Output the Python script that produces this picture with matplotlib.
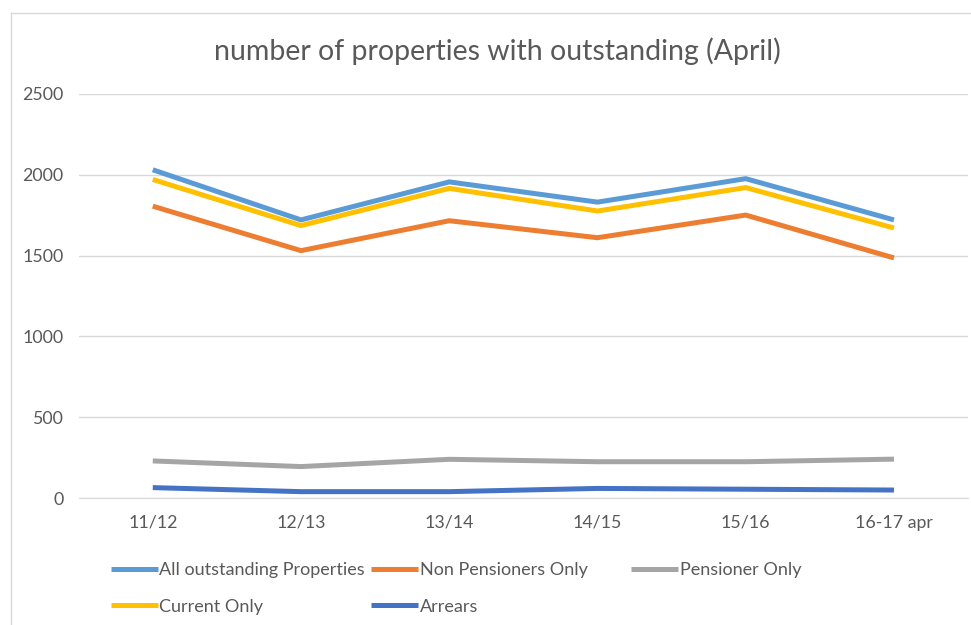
import matplotlib.pyplot as plt
import numpy as np

# data
categories = ["11/12", "12/13", "13/14", "14/15", "15/16", "16-17 apr"]
all_outstanding = [2030, 1720, 1955, 1830, 1975, 1720]
non_pensioners = [1805, 1530, 1715, 1610, 1750, 1485]
pensioner = [230, 195, 240, 225, 225, 241]
current_only = [1970, 1685, 1915, 1775, 1920, 1670]
arrears = [65, 40, 40, 60, 55, 50]

series = [
    ("All outstanding Properties", all_outstanding, "#5B9BD5"),
    ("Non Pensioners Only", non_pensioners, "#ED7D31"),
    ("Pensioner Only", pensioner, "#A5A5A5"),
    ("Current Only", current_only, "#FFC000"),
    ("Arrears", arrears, "#4472C4"),
]

plt.rcParams['font.family'] = ['Lato', 'DejaVu Sans']

fig = plt.figure(figsize=(9.71, 6.25), dpi=100)
ax = fig.add_axes([0.081, 0.203, 0.916, 0.647])

x = np.arange(len(categories))
lines = {}
for name, vals, col in series:
    ln, = ax.plot(x, vals, color=col, lw=3.6, label=name, solid_capstyle='butt', zorder=3)
    lines[name] = ln

ax.set_xlim(-0.5, len(categories) - 0.5)
ax.set_ylim(0, 2500)
ax.set_yticks(np.arange(0, 2501, 500))
ax.set_xticks(x)
ax.set_xticklabels(categories)
ax.tick_params(axis='both', length=0, labelsize=12.8, colors='#595959')
ax.tick_params(axis='y', pad=11)
ax.tick_params(axis='x', pad=12)
ax.yaxis.grid(True, color='#D9D9D9', lw=1)
ax.set_axisbelow(True)
for side in ['top', 'right', 'left']:
    ax.spines[side].set_visible(False)
ax.spines['bottom'].set_color('#D9D9D9')

fig.text(0.512, 0.918, "number of properties with outstanding (April)",
         ha='center', va='center', fontsize=20.5, color='#595959')

# chart border
fig.add_artist(plt.Line2D([0.011, 0.011], [0.0, 0.98], color='#D9D9D9', lw=1))
fig.add_artist(plt.Line2D([0.011, 1.0], [0.98, 0.98], color='#D9D9D9', lw=1))

# legend laid out in equal-width columns like the original
legend_cols = [
    (0.114, ["All outstanding Properties", "Current Only"]),
    (0.382, ["Non Pensioners Only", "Arrears"]),
    (0.650, ["Pensioner Only"]),
]
for xpos, names in legend_cols:
    leg = fig.legend([lines[n] for n in names], names, loc='upper left',
                     bbox_to_anchor=(xpos, 0.101), frameon=False,
                     fontsize=13, handlelength=2.6, handletextpad=0.1,
                     labelspacing=1.15, borderpad=0, borderaxespad=0)
    for t in leg.get_texts():
        t.set_color('#595959')

fig.savefig("out.png", dpi=100)
